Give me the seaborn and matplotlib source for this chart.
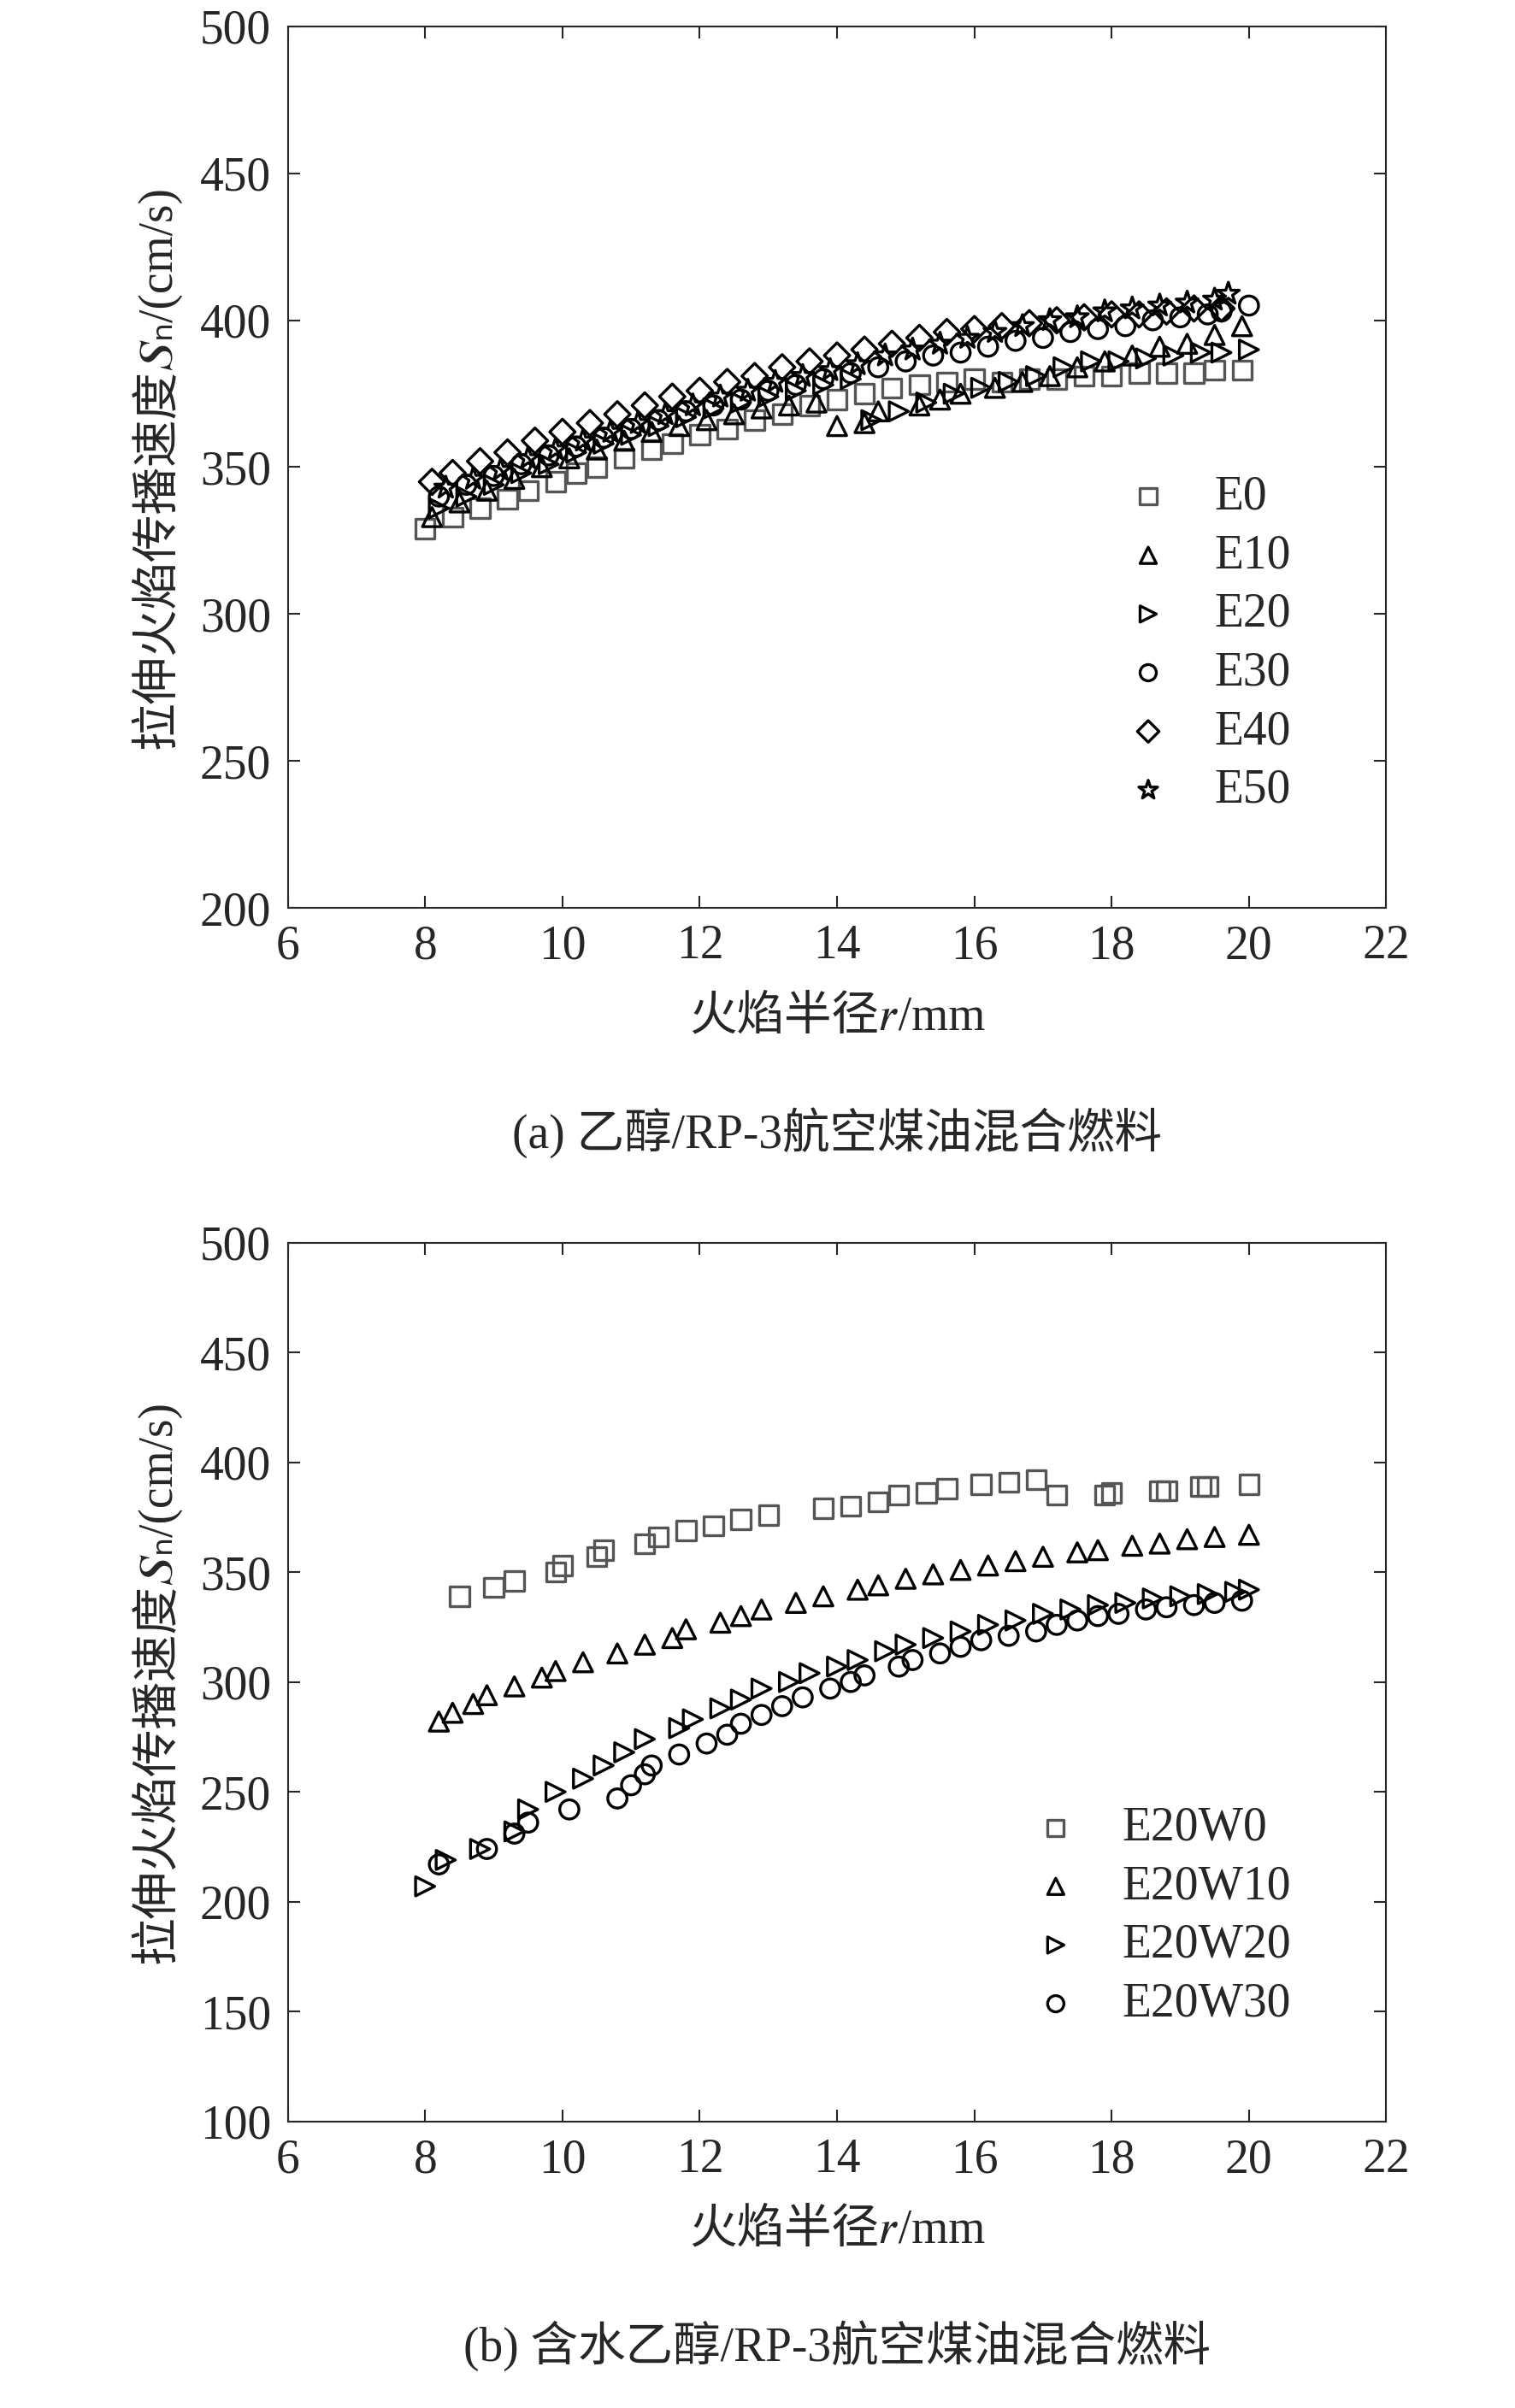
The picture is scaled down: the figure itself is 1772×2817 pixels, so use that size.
import numpy as np
import pandas as pd
import seaborn as sns
import matplotlib.pyplot as plt

sns.set_style("ticks")
fonts = ['Liberation Serif', 'Noto Sans CJK SC', 'STIXGeneral', 'DejaVu Sans']
plt.rcParams['font.family'] = fonts

# ---- panel (a) data ----
e0_x = [8.0, 8.4, 8.8, 9.2, 9.5, 9.9, 10.2, 10.5, 10.9, 11.3, 11.6, 12.0, 12.4, 12.8, 13.2, 13.6, 14.0, 14.4,
        14.8, 15.2, 15.6, 16.0, 16.4, 16.8, 17.2, 17.6, 18.0, 18.4, 18.8, 19.2, 19.5, 19.9]
e0_y = [329, 333, 336, 339, 342, 345, 348, 350, 353, 356, 358, 361, 363, 366, 368, 371, 373, 375,
        377, 378, 379, 380, 379, 380, 380, 381, 381, 382, 382, 382, 383, 383]
e10_x = [8.1, 8.5, 8.9, 9.3, 9.7, 10.1, 10.5, 10.9, 11.3, 11.7, 12.1, 12.5, 12.9, 13.3, 13.7, 14.0, 14.4,
         14.6, 15.2, 15.5, 15.8, 16.3, 16.7, 17.1, 17.5, 17.9, 18.3, 18.7, 19.1, 19.5, 19.9]
e10_y = [333, 338, 342, 346, 350, 353, 356, 359, 362, 364, 366, 368, 370, 371, 372, 364, 365,
         369, 371, 373, 375, 377, 379, 381, 384, 386, 388, 391, 392, 395, 398]
e20_x = [8.2, 8.6, 9.0, 9.4, 9.8, 10.2, 10.6, 11.0, 11.4, 11.8, 12.2, 12.6, 13.0, 13.4, 13.8, 14.2,
         14.5, 14.9, 15.3, 15.7, 16.1, 16.5, 16.9, 17.3, 17.7, 18.1, 18.5, 18.9, 19.3, 19.6, 20.0]
e20_y = [336, 340, 344, 348, 351, 355, 358, 361, 364, 367, 370, 372, 374, 376, 378, 380,
         366, 369, 372, 375, 377, 379, 381, 384, 386, 386, 387, 388, 389, 389, 390]
e30_x = [8.2, 8.6, 9.0, 9.4, 9.8, 10.2, 10.6, 11.0, 11.4, 11.8, 12.2, 12.6, 13.0, 13.4, 13.8, 14.2,
         14.6, 15.0, 15.4, 15.8, 16.2, 16.6, 17.0, 17.4, 17.8, 18.2, 18.6, 19.0, 19.4, 19.6, 20.0]
e30_y = [340, 344, 347, 351, 354, 357, 360, 363, 366, 369, 371, 373, 376, 378, 380, 382,
         384, 386, 388, 389, 391, 393, 394, 396, 397, 398, 400, 401, 402, 403, 405]
e40_x = [8.1, 8.4, 8.8, 9.2, 9.6, 10.0, 10.4, 10.8, 11.2, 11.6, 12.0, 12.4, 12.8, 13.2, 13.6, 14.0,
         14.4, 14.8, 15.2, 15.6, 16.0, 16.4, 16.8, 17.2, 17.6, 18.0, 18.4, 18.8, 19.2, 19.6]
e40_y = [345, 348, 352, 355, 359, 362, 365, 368, 371, 374, 376, 379, 381, 384, 386, 388,
         390, 392, 394, 396, 397, 398, 399, 400, 401, 402, 402, 403, 404, 404]
e50_x = [8.3, 8.7, 9.1, 9.5, 9.9, 10.3, 10.7, 11.1, 11.5, 11.9, 12.3, 12.7, 13.1, 13.5, 13.9, 14.3,
         14.7, 15.1, 15.5, 15.9, 16.3, 16.7, 17.1, 17.5, 17.9, 18.3, 18.7, 19.1, 19.5, 19.7]
e50_y = [343, 346, 349, 353, 356, 359, 362, 365, 368, 371, 374, 376, 379, 381, 383, 385,
         388, 390, 392, 394, 396, 398, 400, 401, 403, 404, 405, 406, 407, 409]

# ---- panel (b) data ----
w0_x = [8.5, 9.0, 9.3, 9.9, 10.0, 10.5, 10.6, 11.2, 11.4, 11.8, 12.2, 12.6, 13.0, 13.8, 14.2, 14.6,
        14.9, 15.3, 15.6, 16.1, 16.5, 16.9, 17.2, 17.9, 18.0, 18.7, 18.8, 19.3, 19.4, 20.0]
w0_y = [339, 343, 346, 350, 353, 357, 360, 363, 366, 369, 371, 374, 376, 379, 380, 382,
        385, 386, 388, 390, 391, 392, 385, 385, 386, 387, 387, 389, 389, 390]
w10_x = [8.2, 8.4, 8.7, 8.9, 9.3, 9.7, 9.9, 10.3, 10.8, 11.2, 11.6, 11.8, 12.3, 12.6, 12.9, 13.4,
         13.8, 14.3, 14.6, 15.0, 15.4, 15.8, 16.2, 16.6, 17.0, 17.5, 17.8, 18.3, 18.7, 19.1, 19.5, 20.0]
w10_y = [282, 286, 290, 294, 298, 302, 305, 309, 313, 317, 320, 324, 327, 330, 333, 336,
         339, 342, 344, 347, 349, 351, 353, 355, 357, 359, 360, 362, 363, 365, 366, 367]
w20_x = [8.0, 8.3, 8.8, 9.3, 9.5, 9.9, 10.3, 10.6, 10.9, 11.2, 11.7, 11.9, 12.3, 12.6, 12.9, 13.3,
         13.6, 14.0, 14.3, 14.7, 15.0, 15.4, 15.8, 16.2, 16.6, 17.0, 17.4, 17.8, 18.2, 18.6, 19.0,
         19.4, 19.8, 20.0]
w20_y = [207, 219, 224, 232, 242, 250, 256, 262, 268, 274, 279, 283, 288, 292, 297, 300,
         304, 307, 310, 314, 317, 320, 323, 326, 328, 331, 333, 335, 336, 338, 339, 340, 341, 342]
w30_x = [8.2, 8.9, 9.3, 9.5, 10.1, 10.8, 11.0, 11.2, 11.3, 11.7, 12.1, 12.4, 12.6, 12.9, 13.2, 13.5,
         13.9, 14.2, 14.4, 14.9, 15.1, 15.5, 15.8, 16.1, 16.5, 16.9, 17.2, 17.5, 17.8, 18.1, 18.5,
         18.8, 19.2, 19.5, 19.9]
w30_y = [217, 224, 231, 236, 242, 247, 253, 258, 262, 267, 272, 276, 281, 285, 289, 293,
         297, 300, 303, 307, 310, 313, 316, 319, 321, 323, 326, 328, 330, 331, 333, 334, 335, 336, 337]

series_a = [("E0", e0_x, e0_y, "s", "#555555"), ("E10", e10_x, e10_y, "^", "black"),
            ("E20", e20_x, e20_y, ">", "black"), ("E30", e30_x, e30_y, "o", "black"),
            ("E40", e40_x, e40_y, "D", "black"), ("E50", e50_x, e50_y, "*", "black")]
series_b = [("E20W0", w0_x, w0_y, "s", "#555555"), ("E20W10", w10_x, w10_y, "^", "black"),
            ("E20W20", w20_x, w20_y, ">", "black"), ("E20W30", w30_x, w30_y, "o", "black")]

fs = 40
fig = plt.figure(figsize=(17.72, 28.17), dpi=100)
ax_a = fig.add_axes([0.19, 0.623, 0.725, 0.366])
ax_b = fig.add_axes([0.19, 0.119, 0.725, 0.365])

# math italic S, subscript n, math italic r (unicode, no mathtext)
ylab = '拉伸火焰传播速度\U0001D446\u2099/(cm/s)'
xlab = '火焰半径\U0001D45F/mm'

for ax, series, ylim, yticks, caption in [
        (ax_a, series_a, (200, 500), np.arange(200, 501, 50), '(a) 乙醇/RP-3航空煤油混合燃料'),
        (ax_b, series_b, (100, 500), np.arange(100, 501, 50), '(b) 含水乙醇/RP-3航空煤油混合燃料')]:
    for name, xs, ys, mk, col in series:
        size = 380 if mk == '*' else (230 if mk == 'D' else 260)
        sns.scatterplot(x=xs, y=ys, ax=ax, marker=mk, s=size, facecolors='none',
                        edgecolor=col, linewidth=2.4, label=name)
    ax.set_xlim(6, 22)
    ax.set_ylim(*ylim)
    ax.set_xticks(np.arange(6, 23, 2))
    ax.set_yticks(yticks)
    ax.tick_params(direction='in', length=10, width=1.5, labelsize=fs, top=True, right=True, pad=14)
    for sp in ax.spines.values():
        sp.set_linewidth(1.5)
    ax.set_xlabel(xlab, fontsize=fs, labelpad=22)
    ax.set_ylabel(ylab, fontsize=fs, labelpad=16)
    ax.legend(loc='lower right', frameon=False, fontsize=fs, handletextpad=0.4,
              labelspacing=0.3, borderaxespad=1.0, markerscale=0.85, borderpad=1.0)
    ax.text(0.5, -0.255, caption, transform=ax.transAxes, ha='center', va='center', fontsize=fs)

fig.savefig('out.png', dpi=100)
